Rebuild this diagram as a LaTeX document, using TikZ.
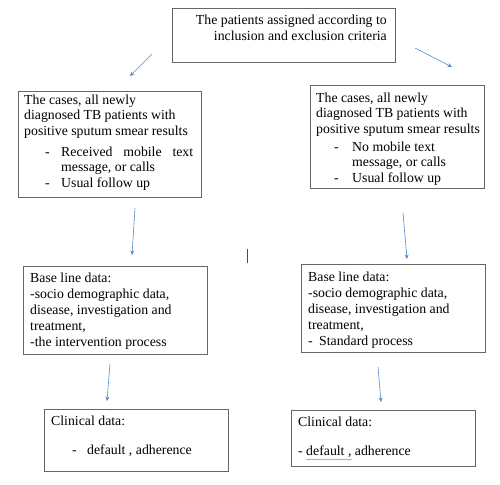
\documentclass[tikz,border=0pt]{standalone}
\usepackage{fontspec}
\setmainfont{Liberation Serif}
\usetikzlibrary{arrows.meta,decorations.pathmorphing}
\definecolor{arrblue}{RGB}{88,138,208}
\begin{document}
\begin{tikzpicture}[x=1pt,y=-1pt,
  box/.style={draw=black!60, line width=0.8pt},
  txt/.style={inner sep=0pt, anchor=base west, font=\fontsize{13.8}{16}\selectfont},
  txtr/.style={inner sep=0pt, anchor=base east, font=\fontsize{13.8}{16}\selectfont},
  arr/.style={draw=arrblue, line width=0.6pt, -{Stealth[length=4.5pt,width=4pt]}}]
\useasboundingbox[fill=white] (0,0) rectangle (500,484);
% boxes
\draw[box] (172,8) rectangle (395,62);
\draw[box] (18,91) rectangle (201,197);
\draw[box] (310,85) rectangle (484,188);
\draw[box] (23,266) rectangle (207,354);
\draw[box] (301,264) rectangle (485,352);
\draw[box] (44,409) rectangle (228,471);
\draw[box] (291,410) rectangle (475,466);
% top text
\node[txtr] (t1) at (387,24.5) {The patients assigned according to};
\node[txtr] (t2) at (387,40.5) {inclusion and exclusion criteria};
% left box 1
\node[txt] (a1) at (24,104.5) {The cases, all newly};
\node[txt] (a2) at (24,120) {diagnosed TB patients with};
\node[txt] (a3) at (24,135.5) {positive sputum smear results};
\node[txt] (a4d) at (45,156.5) {-};
\node[txt] (a4) at (61,156.5) {\makebox[132pt][s]{Received mobile text}};
\node[txt] (a5) at (61,171.5) {message, or calls};
\node[txt] (a6d) at (45,187.5) {-};
\node[txt] (a6) at (61,187.5) {Usual follow up};
% right box 1
\node[txt] (b1) at (316,102.5) {The cases, all newly};
\node[txt] (b2) at (316,117.5) {diagnosed TB patients with};
\node[txt] (b3) at (316,133.5) {positive sputum smear results};
\node[txt] (b4d) at (334,151.5) {-};
\node[txt] (b4) at (352,151.5) {No mobile text};
\node[txt] (b5) at (352,166.5) {message, or calls};
\node[txt] (b6d) at (334,182.5) {-};
\node[txt] (b6) at (352,182.5) {Usual follow up};
% left box 2
\node[txt] (c1) at (30,282.5) {Base line data:};
\node[txt] (c2) at (30,298.5) {-socio demographic data,};
\node[txt] (c3) at (30,314.5) {disease, investigation and};
\node[txt] (c4) at (30,330.5) {treatment,};
\node[txt] (c5) at (30,346.5) {-the intervention process};
% right box 2
\node[txt] (d1) at (308,281.5) {Base line data:};
\node[txt] (d2) at (308,297.5) {-socio demographic data,};
\node[txt] (d3) at (308,313.5) {disease, investigation and};
\node[txt] (d4) at (308,329.5) {treatment,};
\node[txt] (d5d) at (308,345.5) {-};
\node[txt] (d5) at (319,345.5) {Standard process};
% left box 3
\node[txt] (e1) at (51,425.5) {Clinical data:};
\node[txt] (e2d) at (72,454.5) {-};
\node[txt] (e2) at (87,454.5) {default , adherence};
% right box 3
\node[txt] (f1) at (298,426.5) {Clinical data:};
\node[txt] (f2) at (298,455.5) {- default , adherence};
\draw[arrblue, line width=0.4pt, decorate, decoration={snake, amplitude=0.5pt, segment length=2.5pt}] (306,459.5) -- (352,459.5);
% arrow end coordinates
\coordinate (p1s) at (152,54); \coordinate (p1e) at (130,76);
\coordinate (p2s) at (415,48); \coordinate (p2e) at (452,67);
\coordinate (p3s) at (135,208); \coordinate (p3e) at (132,255);
\coordinate (p4s) at (403,213); \coordinate (p4e) at (407,259);
\coordinate (p5s) at (110,364); \coordinate (p5e) at (107,401);
\coordinate (p6s) at (378,367); \coordinate (p6e) at (381,402);
\draw[arr] (p1s) -- (p1e);
\draw[arr] (p2s) -- (p2e);
\draw[arr] (p3s) -- (p3e);
\draw[arr] (p4s) -- (p4e);
\draw[arr] (p5s) -- (p5e);
\draw[arr] (p6s) -- (p6e);
% stray mark
\coordinate (m1) at (247,249); \coordinate (m2) at (247,263);
\draw[black!70, line width=0.8pt] (m1) -- (m2);
\end{tikzpicture}
\end{document}
